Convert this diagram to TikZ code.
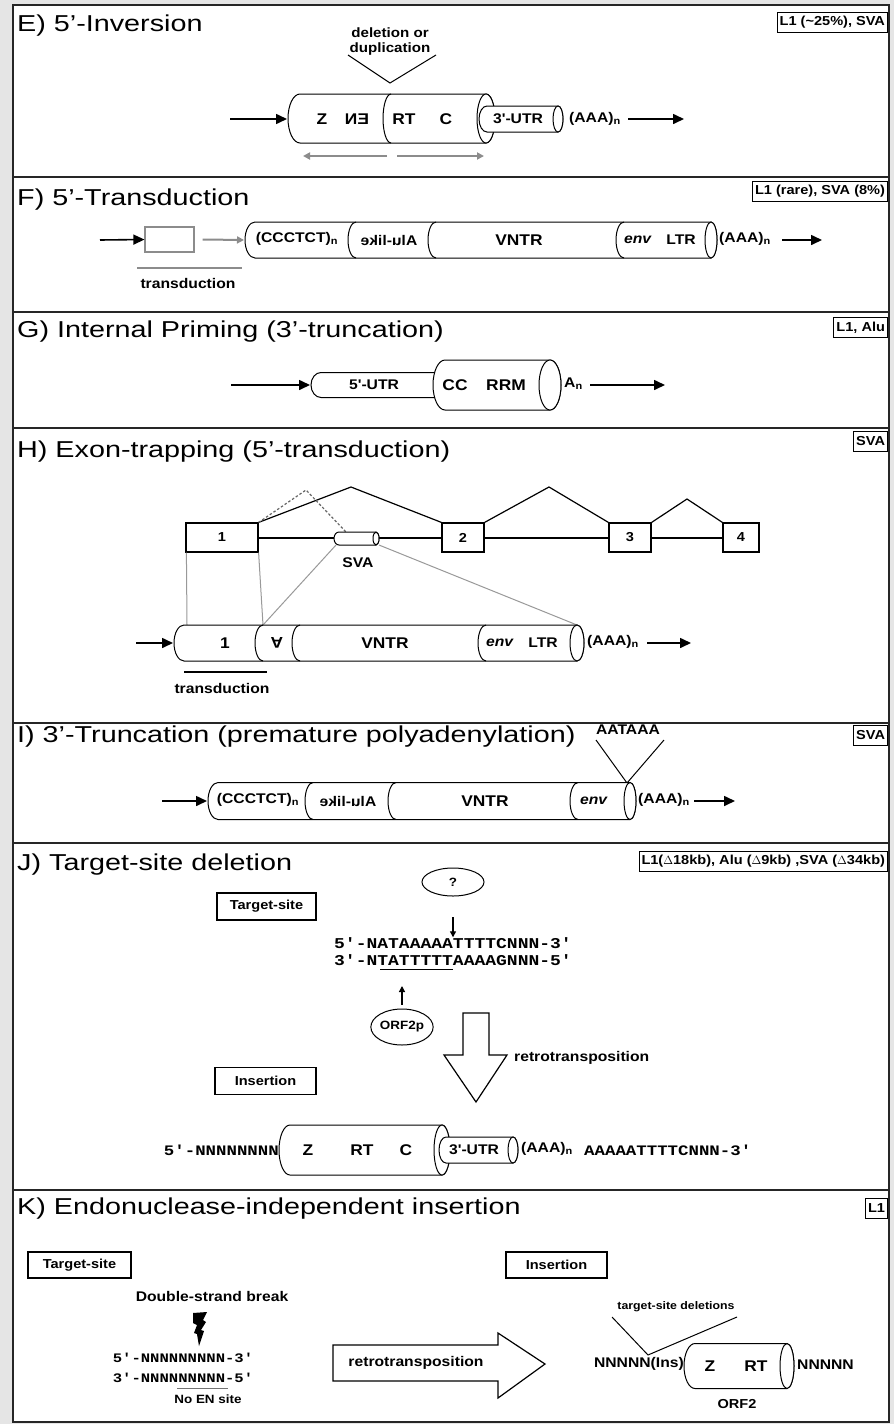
\documentclass[tikz,border=0pt]{standalone}
\usepackage{fontspec}
\usepackage{graphicx}
\setmainfont{Liberation Sans}[FakeStretch=1.25]
\newfontfamily\lf{Liberation Sans}[UprightFont={* Bold},ItalicFont={* Bold Italic},FakeStretch=1.12]
\newfontfamily\seqf{Liberation Mono}[FakeStretch=1.2]
\usetikzlibrary{arrows.meta,shapes.geometric}
% cylinder body: xl xr yc h rl rr
\newcommand{\cylbody}[6]{%
  \draw[cyl] ({#1+#5},{#3-#4}) arc[start angle=-90,end angle=-270,x radius=#5,y radius=#4]
     -- (#2,{#3+#4}) arc[start angle=90,end angle=-90,x radius=#6,y radius=#4] -- cycle;
  \draw[cyl] (#2,#3) ellipse[x radius=#6,y radius=#4];}
% tube without right end: xl xr yc h rl
\newcommand{\cyltube}[5]{%
  \draw[cyl] (#2,{#3-#4}) -- ({#1+#5},{#3-#4}) arc[start angle=-90,end angle=-270,x radius=#5,y radius=#4] -- (#2,{#3+#4});}
% divider: xd yc h rd
\newcommand{\cyldiv}[4]{%
  \draw[line width=1pt] ({#1+#4},{#2-#3}) arc[start angle=-90,end angle=-270,x radius=#4,y radius=#3];}
\newcommand{\mirr}[1]{\scalebox{-1}[1]{#1}}
\newcommand{\flipv}[1]{\raisebox{0.72em}{\scalebox{1}[-1]{#1}}}
\begin{document}
\begin{tikzpicture}[x=1pt,y=-1pt,
  panel/.style={draw=black!85, line width=2.2pt, fill=white},
  ttl/.style={anchor=west, font=\fontsize{23}{26}\selectfont, inner sep=0},
  tag/.style={draw, line width=1pt, anchor=north east, font=\lf\fontsize{13}{15}\selectfont, inner sep=2.5pt, minimum height=20pt},
  lab/.style={font=\lf\fontsize{14}{15}\selectfont, inner sep=0},
  big/.style={font=\lf\fontsize{15.5}{17}\selectfont, inner sep=0},
  sml/.style={font=\lf\fontsize{12}{14}\selectfont, inner sep=0},
  cyl/.style={draw, line width=1pt, fill=white},
  arr/.style={line width=1.6pt, -{Triangle[length=11pt,width=10pt]}},
  garr/.style={line width=2pt, draw=black!45, -{Triangle[length=7pt,width=7pt]}},
  gline/.style={line width=1pt, draw=black!40},
  lbox/.style={draw, line width=1.2pt, font=\lf\fontsize{13}{15}\selectfont, inner sep=0, minimum height=27pt},
  seq/.style={font=\seqf\bfseries\fontsize{15}{17}\selectfont, inner sep=0},
  oval/.style={draw, ellipse, line width=1pt, inner sep=0, font=\lf\fontsize{12}{14}\selectfont}
]
\useasboundingbox (0,0) rectangle (894,1424);
\fill[black!10] (0,0) rectangle (894,1424);
% panels
\draw[panel] (13,5) rectangle (889,177);
\draw[panel] (13,177) rectangle (889,312);
\draw[panel] (13,312) rectangle (889,428);
\draw[panel] (13,428) rectangle (889,723);
\draw[panel] (13,723) rectangle (889,843);
\draw[panel] (13,843) rectangle (889,1190);
\draw[panel] (13,1190) rectangle (889,1422);

%================ E
\node[ttl] (Et) at (17,26) {E) 5'-Inversion};
\node[tag] (Eg) at (888,12) {L1 (\textasciitilde25\%), SVA};
\node[lab, align=center, font=\lf\fontsize{13.5}{15}\selectfont] (Edel) at (390,42) {deletion or\\duplication};
\coordinate (Ev1) at (348,55); \coordinate (Ev) at (390,83); \coordinate (Ev2) at (436,55);
\draw[line width=1pt] (Ev1) -- (Ev) -- (Ev2);
\cylbody{288}{486}{118.5}{24.5}{12}{9}
\cyldiv{383}{118.5}{24.5}{8}
\cylbody{479}{558}{119}{13}{8}{5}
\node[big] (Ez) at (322,119) {Z};
\node[big] (Een) at (357,119) {\mirr{EN}};
\node[big] (Ert) at (404,119) {RT};
\node[big] (Ec) at (446,119) {C};
\node[lab] (Eutr) at (518,119) {3'-UTR};
\node[lab, anchor=west] (Eaaa) at (569,119) {(AAA)\textsubscript{n}};
\coordinate (Ea0) at (230,119); \coordinate (Ea1) at (287,119);
\draw[arr] (Ea0) -- (Ea1);
\coordinate (Eb0) at (628,119); \coordinate (Eb1) at (684,119);
\draw[arr] (Eb0) -- (Eb1);
\coordinate (Eg0) at (387,156); \coordinate (Eg1) at (303,156);
\coordinate (Eg2) at (397,156); \coordinate (Eg3) at (484,156);
\draw[garr] (Eg0) -- (Eg1);
\draw[garr] (Eg2) -- (Eg3);

%================ F
\node[ttl] (Ft) at (17,200) {F) 5'-Transduction};
\node[tag] (Fg) at (888,181) {L1 (rare), SVA (8\%)};
\node[draw=black!45, line width=1.2pt, minimum width=49pt, minimum height=25pt, inner sep=0] (Fbox) at (169.5,239.5) {};
\coordinate (Fa0) at (100,240);
\draw[arr] (Fa0) -- (Fbox.west);
\coordinate (Fc0) at (244,240);
\draw[garr] (Fbox.east) ++(8,0) -- (Fc0);
\coordinate (Fu0) at (137,268); \coordinate (Fu1) at (242,268);
\draw[line width=2pt, draw=black!45] (Fu0) -- (Fu1);
\node[lab] (Ftr) at (188,283) {transduction};
\cylbody{245}{711}{240}{18}{10}{6}
\cyldiv{348}{240}{18}{8}
\cyldiv{428}{240}{18}{8}
\cyldiv{616}{240}{18}{8}
\node[lab] (Fccc) at (297,239) {(CCCTCT)\textsubscript{n}};
\node[lab] (Falu) at (389,240) {\mirr{Alu-like}};
\node[big] (Fvntr) at (519,240) {VNTR};
\node[lab] (Fenv) at (638,240) {\textit{env}};
\node[lab] (Fltr) at (681,240) {LTR};
\node[lab, anchor=west] (Faaa) at (719,239) {(AAA)\textsubscript{n}};
\coordinate (Fb0) at (782,240); \coordinate (Fb1) at (822,240);
\draw[arr] (Fb0) -- (Fb1);

%================ G
\node[ttl] (Gt) at (17,332) {G) Internal Priming (3'-truncation)};
\node[tag] (Gg) at (888,317) {L1, Alu};
\cyltube{311}{440}{385}{12.5}{10}
\cylbody{433}{550}{385}{25}{12}{11}
\node[lab] (Gutr) at (374,385) {5'-UTR};
\node[big] (Gcc) at (455,385) {CC};
\node[big] (Grrm) at (506,385) {RRM};
\node[lab, anchor=west] (Gan) at (564,384) {A\textsubscript{n}};
\coordinate (Ga0) at (231,385); \coordinate (Ga1) at (310,385);
\draw[arr] (Ga0) -- (Ga1);
\coordinate (Gb0) at (590,385); \coordinate (Gb1) at (665,385);
\draw[arr] (Gb0) -- (Gb1);

%================ H
\node[ttl] (Ht) at (17,452) {H) Exon-trapping (5'-transduction)};
\node[tag] (Hg) at (888,431) {SVA};
\node[draw, line width=1.2pt, minimum width=72pt, minimum height=29pt, inner sep=0, font=\lf\fontsize{13}{15}\selectfont] (X1) at (222,537.5) {1};
\node[draw, line width=1.2pt, minimum width=42pt, minimum height=29pt, inner sep=0, font=\lf\fontsize{13}{15}\selectfont] (X2) at (463,537.5) {2};
\node[draw, line width=1.2pt, minimum width=42pt, minimum height=29pt, inner sep=0, font=\lf\fontsize{13}{15}\selectfont] (X3) at (630,537.5) {3};
\node[draw, line width=1.2pt, minimum width=36pt, minimum height=29pt, inner sep=0, font=\lf\fontsize{13}{15}\selectfont] (X4) at (741,537.5) {4};
\draw[line width=2pt] (X1.east) -- (X2.west);
\draw[line width=2pt] (X2.east) -- (X3.west);
\draw[line width=2pt] (X3.east) -- (X4.west);
\coordinate (Hp1) at (351,487); \coordinate (Hp2) at (549,487); \coordinate (Hp3) at (687,499);
\draw[line width=1.2pt] (X1.north east) -- (Hp1) -- (X2.north west);
\draw[line width=1.2pt] (X2.north east) -- (Hp2) -- (X3.north west);
\draw[line width=1.2pt] (X3.north east) -- (Hp3) -- (X4.north west);
\coordinate (Hd1) at (306,490); \coordinate (Hd2) at (346,532);
\draw[line width=1.2pt, draw=black!60, dash pattern=on 2.5pt off 2pt] (X1.north east) -- (Hd1) -- (Hd2);
\cylbody{334}{376}{538.5}{6.5}{5}{3}
\node[lab] (Hsva) at (358,563) {SVA};
% gray projection lines
\coordinate (Hc1) at (187,625); \coordinate (Hc2) at (263,625); \coordinate (Hc3) at (577,625);
\coordinate (Hs1) at (336,545); \coordinate (Hs2) at (379,545);
\draw[gline] (X1.south west) ++(1,0) -- (Hc1);
\draw[gline] (X1.south east) -- (Hc2);
\draw[gline] (Hs1) -- (Hc2);
\draw[gline] (Hs2) -- (Hc3);
\cylbody{174}{577}{643}{18}{10}{7}
\cyldiv{255}{643}{18}{8}
\cyldiv{292}{643}{18}{8}
\cyldiv{478}{643}{18}{8}
\node[big] (H1) at (225,643) {1};
\node[big] (Hala) at (277,643) {\flipv{A}};
\node[big] (Hvntr) at (385,643) {VNTR};
\node[lab] (Henv) at (500,643) {\textit{env}};
\node[lab] (Hltr) at (543,643) {LTR};
\node[lab, anchor=west] (Haaa) at (587,642) {(AAA)\textsubscript{n}};
\coordinate (Ha0) at (136,643); \coordinate (Ha1) at (173,643);
\draw[arr] (Ha0) -- (Ha1);
\coordinate (Hb0) at (647,643); \coordinate (Hb1) at (691,643);
\draw[arr] (Hb0) -- (Hb1);
\coordinate (Hu0) at (184,672); \coordinate (Hu1) at (267,672);
\draw[line width=1.5pt] (Hu0) -- (Hu1);
\node[lab] (Htr) at (222,688) {transduction};

%================ I
\node[ttl] (It) at (17,737) {I) 3'-Truncation (premature polyadenylation)};
\node[tag] (Ig) at (888,725) {SVA};
\node[lab] (Iaat) at (628,730) {AATAAA};
\coordinate (Iv1) at (596,740); \coordinate (Iv) at (627,783); \coordinate (Iv2) at (664,740);
\draw[line width=1pt] (Iv1) -- (Iv) -- (Iv2);
\cylbody{208}{630}{801}{18.5}{10}{6}
\cyldiv{305}{801}{18.5}{8}
\cyldiv{388}{801}{18.5}{8}
\cyldiv{570}{801}{18.5}{8}
\node[lab] (Iccc) at (258,800) {(CCCTCT)\textsubscript{n}};
\node[lab] (Ialu) at (348,801) {\mirr{Alu-like}};
\node[big] (Ivntr) at (485,801) {VNTR};
\node[lab] (Ienv) at (594,801) {\textit{env}};
\node[lab, anchor=west] (Iaaa) at (638,800) {(AAA)\textsubscript{n}};
\coordinate (Ia0) at (162,801); \coordinate (Ia1) at (207,801);
\draw[arr] (Ia0) -- (Ia1);
\coordinate (Ib0) at (694,801); \coordinate (Ib1) at (735,801);
\draw[arr] (Ib0) -- (Ib1);

%================ J
\node[ttl] (Jt) at (17,865) {J) Target-site deletion};
\node[tag] (Jg) at (888,851) {L1(\(\Delta\)18kb), Alu (\(\Delta\)9kb) ,SVA (\(\Delta\)34kb)};
\node[oval, minimum width=62pt, minimum height=28pt] (Jq) at (453,882) {?};
\node[lbox, minimum width=99pt] (Jts) at (266.5,906.5) {Target-site};
\node[seq] (Js1) at (453,943) {5'-NATAAAAATTTTCNNN-3'};
\node[seq] (Js2) at (453,960) {3'-NTATTTTTAAAAGNNN-5'};
\coordinate (Jq0) at (453,917);
\draw[line width=1.3pt, -{Triangle[length=6pt,width=6pt]}] (Jq0) -- (Js1.north);
\coordinate (Ju0) at (380,969); \coordinate (Ju1) at (453,969);
\draw[line width=1pt] (Ju0) -- (Ju1);
\node[oval, minimum width=62pt, minimum height=36pt] (Jorf) at (402,1027) {ORF2p};
\coordinate (Jo1) at (402,986);
\draw[line width=1.3pt, -{Triangle[length=6pt,width=6pt]}] (Jorf.north) ++(0,-4) -- (Jo1);
\draw[line width=1.2pt, fill=white] (463,1013) -- (489,1013) -- (489,1055) -- (507,1055) -- (476,1102) -- (444,1055) -- (463,1055) -- cycle;
\node[lab, anchor=west] (Jrt) at (514,1058) {retrotransposition};
\node[lbox, minimum width=101pt] (Jins) at (265.5,1081) {Insertion};
\node[seq, anchor=east, font=\seqf\bfseries\fontsize{14.5}{16}\selectfont] (Jn) at (279,1150) {5'-NNNNNNNN};
\cylbody{279}{442}{1150}{25}{11}{8}
\cylbody{439}{513}{1150}{13}{7}{5}
\node[big] (Jz) at (308,1150) {Z};
\node[big] (Jrt2) at (362,1150) {RT};
\node[big] (Jc) at (406,1150) {C};
\node[lab] (Jutr) at (474,1150) {3'-UTR};
\node[lab, anchor=west] (Jaaa) at (521,1149) {(AAA)\textsubscript{n}};
\node[seq, anchor=west, font=\seqf\bfseries\fontsize{14.5}{16}\selectfont] (Jtail) at (584,1150) {AAAAATTTTCNNN-3'};

%================ K
\node[ttl] (Kt) at (17,1209) {K) Endonuclease-independent insertion};
\node[tag] (Kg) at (888,1198) {L1};
\node[lbox, minimum width=103pt, minimum height=26pt] (Kts) at (79.5,1265) {Target-site};
\node[lbox, minimum width=101pt, minimum height=26pt] (Kins) at (556.5,1265) {Insertion};
\node[lab] (Kdsb) at (212,1296) {Double-strand break};
\fill[black] (193,1313) -- (207,1312) -- (203,1320) -- (206,1322) -- (201,1330) -- (204,1331) -- (199,1346) -- (197,1334) -- (194,1333) -- (197,1325) -- (193,1323) -- cycle;
\node[seq, font=\seqf\bfseries\fontsize{13}{15}\selectfont] (Ks1) at (183,1358) {5'-NNNNNNNNN-3'};
\node[seq, font=\seqf\bfseries\fontsize{13}{15}\selectfont] (Ks2) at (183,1378) {3'-NNNNNNNNN-5'};
\coordinate (Ku0) at (177,1388); \coordinate (Ku1) at (228,1388);
\draw[line width=1pt, draw=black!55] (Ku0) -- (Ku1);
\node[sml] (Ken) at (208,1399) {No EN site};
\draw[line width=1.2pt, fill=white] (333,1345) -- (498,1345) -- (498,1333) -- (545,1364) -- (498,1398) -- (498,1381) -- (333,1381) -- cycle;
\node[lab] (Krt) at (416,1363) {retrotransposition};
\node[font=\lf\fontsize{11}{13}\selectfont, inner sep=0] (Ktsd) at (676,1307) {target-site deletions};
\coordinate (Kv1) at (612,1317); \coordinate (Kv) at (648,1355); \coordinate (Kv2) at (737,1317);
\draw[line width=1pt] (Kv1) -- (Kv) -- (Kv2);
\cylbody{684}{787}{1366}{22.5}{11}{7}
\node[lab, anchor=east] (Kins2) at (684,1364) {NNNNN(Ins)};
\node[big] (Kz) at (710,1366) {Z};
\node[big] (Krt3) at (756,1366) {RT};
\node[lab, anchor=west] (Kn) at (797,1365) {NNNNN};
\node[sml, font=\lf\fontsize{13}{15}\selectfont] (Korf) at (737,1404) {ORF2};
\end{tikzpicture}
\end{document}
